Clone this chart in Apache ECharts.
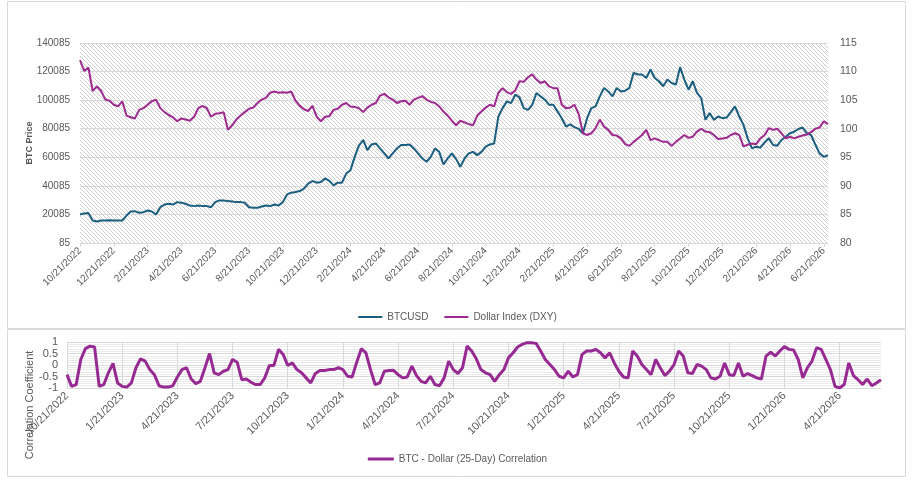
<!DOCTYPE html>
<html>
<head>
<meta charset="utf-8">
<script src="https://cdn.jsdelivr.net/npm/echarts@6/dist/echarts.min.js"></script>
<style>
  html, body { margin: 0; padding: 0; background: #fff; }
  #main { width: 915px; height: 485px; }
</style>
</head>
<body>
<div id="main"></div>
<script>
// weekly points (21st, 28th, 5th, 13th of each month)
var btcPrice = [
    20000, 20800, 21000, 15800, 15100, 15800, 15800, 16000, 15800, 15800,
    15800, 19300, 22100, 22350, 21200, 21650, 22800, 22100, 20000, 25150,
    27000, 27500, 27000, 28700, 28200, 27500, 26300, 25900, 26300, 25900,
    25900, 25150, 28700, 29900, 29900, 29400, 29200, 28700, 28700, 28200,
    25150, 24700, 24700, 25600, 26300, 25900, 27000, 26300, 28700, 34100,
    35300, 35750, 36450, 38100, 41600, 43500, 42300, 42800, 45300, 43600,
    40450, 42300, 42300, 48700, 51000, 60400, 68200, 72200, 65100, 69100,
    69800, 66300, 62800, 59250, 62800, 66300, 68700, 68700, 69100, 66300,
    62800, 59250, 56900, 60400, 66300, 63900, 55000, 59250, 62800, 58800,
    53400, 59250, 62800, 63900, 61600, 63900, 67500, 69100, 69800, 88600,
    94500, 99200, 98000, 103900, 102000, 94500, 93300, 96800, 105100, 102700,
    100400, 96800, 96800, 92150, 87450, 81600, 83200, 81200, 80000, 76900,
    87450, 94500, 95700, 102700, 108600, 106200, 102700, 108600, 106200, 106700,
    108600, 119200, 118000, 118000, 115600, 121500, 115600, 113300, 109800, 114500,
    112100, 110900, 123200, 114500, 107400, 113300, 105100, 101500, 86300, 91000,
    86300, 88600, 87450, 87900, 91700, 95700, 88600, 82750, 73350, 66300,
    67500, 66800, 70500, 73350, 68700, 68200, 72200, 74500, 76900, 78000,
    79900, 80900, 76900, 75700, 69000, 62800, 60400, 61500
];
var dollarIndex = [
    112.0, 110.1, 110.7, 106.6, 107.4, 106.6, 105.1, 104.9, 104.2, 103.9,
    104.8, 102.3, 102.0, 101.8, 103.3, 103.6, 104.2, 104.8, 105.1, 103.6,
    102.9, 102.4, 102.0, 101.3, 101.8, 101.6, 101.4, 102.1, 103.6, 104.0,
    103.6, 102.1, 102.6, 102.7, 102.9, 99.8, 100.6, 101.6, 102.3, 102.9,
    103.5, 103.7, 104.5, 105.1, 105.4, 106.3, 106.5, 106.3, 106.4, 106.3,
    106.5, 104.9, 104.0, 103.4, 103.1, 104.0, 102.1, 101.3, 102.1, 102.2,
    103.3, 103.5, 104.2, 104.5, 103.9, 103.8, 103.6, 102.9, 103.7, 104.2,
    104.5, 105.8, 106.1, 105.5, 105.1, 104.5, 104.8, 104.9, 104.2, 105.1,
    105.4, 105.7, 105.1, 104.7, 104.5, 103.9, 103.0, 102.3, 101.4, 100.6,
    101.4, 101.1, 100.8, 100.6, 102.3, 103.0, 103.7, 104.2, 103.9, 106.3,
    107.1, 106.4, 106.1, 106.7, 108.3, 108.2, 109.0, 109.5, 108.6, 108.0,
    108.3, 107.4, 107.1, 107.1, 104.2, 103.6, 103.7, 104.2, 102.6, 99.2,
    98.9, 99.2, 100.1, 101.6, 100.4, 99.8, 98.9, 98.8, 98.3, 97.3,
    97.0, 97.7, 98.3, 98.9, 99.8, 98.0, 98.3, 98.0, 97.7, 97.7,
    97.0, 97.7, 98.3, 98.9, 98.4, 98.6, 99.5, 100.0, 99.5, 99.4,
    98.9, 98.2, 98.3, 98.4, 98.9, 99.2, 98.9, 96.9, 97.2, 97.4,
    97.3, 98.3, 98.9, 100.1, 99.8, 100.0, 99.2, 98.3, 98.6, 98.3,
    98.6, 98.8, 99.0, 99.4, 100.0, 100.2, 101.3, 100.8
];
var correlation = [
    -0.42, -0.93, -0.85, 0.24, 0.71, 0.82, 0.78, -0.93, -0.85, -0.34,
    0.07, -0.78, -0.93, -0.96, -0.78, -0.12, 0.27, 0.17, -0.20, -0.42,
    -0.90, -0.96, -0.96, -0.90, -0.52, -0.20, -0.12, -0.61, -0.81, -0.71,
    -0.12, 0.50, -0.34, -0.42, -0.27, -0.20, 0.24, 0.12, -0.64, -0.61,
    -0.75, -0.85, -0.85, -0.56, -0.02, -0.02, 0.68, 0.46, -0.02, 0.09,
    -0.20, -0.34, -0.56, -0.78, -0.37, -0.24, -0.24, -0.20, -0.20, -0.12,
    -0.20, -0.49, -0.52, 0.12, 0.71, 0.53, -0.20, -0.85, -0.78, -0.27,
    -0.24, -0.23, -0.42, -0.56, -0.52, -0.05, -0.46, -0.71, -0.78, -0.49,
    -0.85, -0.90, -0.56, 0.17, -0.20, -0.37, -0.12, 0.82, 0.61, 0.27,
    -0.20, -0.34, -0.42, -0.71, -0.42, -0.20, 0.31, 0.53, 0.78, 0.90,
    0.97, 0.97, 0.94, 0.61, 0.24, 0.02, -0.20, -0.49, -0.56, -0.27,
    -0.52, -0.42, 0.46, 0.61, 0.61, 0.68, 0.53, 0.31, 0.53, 0.09,
    -0.27, -0.52, -0.56, 0.61, 0.39, 0.02, -0.20, -0.42, 0.24, -0.12,
    -0.46, -0.27, 0.02, 0.61, 0.39, -0.34, -0.37, 0.02, -0.05, -0.20,
    -0.56, -0.61, -0.49, 0.09, -0.42, -0.46, 0.09, -0.49, -0.37, -0.46,
    -0.56, -0.61, 0.39, 0.56, 0.39, 0.61, 0.80, 0.68, 0.65, 0.24,
    -0.56, -0.12, 0.17, 0.75, 0.68, 0.24, -0.20, -0.93, -1.00, -0.85,
    0.09, -0.46, -0.64, -0.85, -0.61, -0.90, -0.78, -0.64
];
var seriesNames = ['BTCUSD', 'Dollar Index (DXY)'];
var corrName = 'BTC - Dollar (25-Day) Correlation';

// category dates: 4 per month starting 10/21/2022
var dates = [];
for (var k = 0; dates.length < btcPrice.length; k++) {
    var y = 2022 + Math.floor((9 + k) / 12), m = (9 + k) % 12 + 1;
    var ny = 2022 + Math.floor((10 + k) / 12), nm = (10 + k) % 12 + 1;
    dates.push(m + '/21/' + y, m + '/28/' + y, nm + '/5/' + ny, nm + '/13/' + ny);
}
dates.length = btcPrice.length;

var every2m = function (i) { return i % 8 === 0; };
var every3m = function (i) { return i % 12 === 0; };

// hatched plot background
var hatch = document.createElement('canvas');
hatch.width = 4; hatch.height = 4;
var hc = hatch.getContext('2d');
hc.fillStyle = '#ffffff';
hc.fillRect(0, 0, 4, 4);
hc.fillStyle = '#cfcfcf';
for (var p = 0; p < 4; p++) hc.fillRect(p, p, 1, 1);

var txt = '#595959';
var gray = '#d9d9d9';
var font = "'Liberation Sans', Arial, sans-serif";

var myChart = echarts.init(document.getElementById('main'));
var option = {
    animation: false,
    textStyle: { fontFamily: font },
    graphic: [
        { type: 'rect', silent: true, z: -10, shape: { x: 7.5, y: 1.5, width: 898, height: 327 },
          style: { fill: 'none', stroke: gray, lineWidth: 1 } },
        { type: 'rect', silent: true, z: -10, shape: { x: 7.5, y: 329.5, width: 898, height: 147 },
          style: { fill: 'none', stroke: gray, lineWidth: 1 } },
        { type: 'text', silent: true, x: 30, y: 405, rotation: Math.PI / 2,
          style: { text: 'Correlation Coefficient', font: '11px ' + font, fill: txt, align: 'center', verticalAlign: 'middle' } }
    ],
    legend: [{
        data: seriesNames,
        left: 'center',
        top: 307,
        icon: 'rect',
        itemWidth: 24,
        itemHeight: 2,
        itemGap: 16,
        textStyle: { color: txt, fontSize: 10 }
    }, {
        data: [corrName],
        left: 'center',
        top: 449,
        icon: 'rect',
        itemWidth: 26,
        itemHeight: 3,
        textStyle: { color: txt, fontSize: 10 }
    }],
    grid: [{
        left: 80, top: 43, width: 748, height: 200,
        show: true, borderWidth: 0,
        backgroundColor: { image: hatch, repeat: 'repeat' }
    }, {
        left: 67, top: 342, width: 814, height: 46
    }],
    xAxis: [{
        type: 'category', gridIndex: 0, data: dates, boundaryGap: false,
        axisLine: { onZero: false, lineStyle: { color: gray } },
        axisTick: { interval: every2m, length: 4, lineStyle: { color: gray } },
        axisLabel: { interval: every2m, rotate: 45, fontSize: 10, color: txt, margin: 6 },
        splitLine: { show: false }
    }, {
        type: 'category', gridIndex: 1, data: dates, boundaryGap: false,
        axisLine: { onZero: false, lineStyle: { color: gray } },
        axisTick: { show: false },
        axisLabel: { interval: every3m, rotate: 45, fontSize: 11, color: txt, margin: 6 },
        splitLine: { show: true, interval: every3m, lineStyle: { color: gray } }
    }],
    yAxis: [{
        type: 'value', gridIndex: 0, min: 85, max: 140085, interval: 20000,
        name: 'BTC Price', nameLocation: 'middle', nameGap: 46, nameMoveOverlap: false,
        nameTextStyle: { fontWeight: 'bold', fontSize: 9, color: txt },
        axisLabel: { formatter: function (v) { return String(v); }, color: txt, fontSize: 10, margin: 10 },
        axisLine: { show: false }, axisTick: { show: false },
        splitLine: { lineStyle: { color: gray } }
    }, {
        type: 'value', gridIndex: 0, position: 'right', min: 80, max: 115, interval: 5,
        axisLabel: { color: txt, fontSize: 10.5, margin: 12 },
        axisLine: { show: false }, axisTick: { show: false },
        splitLine: { show: false }
    }, {
        type: 'value', gridIndex: 1, min: -1, max: 1, interval: 0.5,
        axisLabel: { color: txt, fontSize: 11, margin: 9 },
        axisLine: { show: false }, axisTick: { show: false },
        minorTick: { show: false, splitNumber: 5 },
        minorSplitLine: { show: true, lineStyle: { color: '#ebebeb' } },
        splitLine: { lineStyle: { color: gray } }
    }],
    series: [{
        name: seriesNames[0], type: 'line', xAxisIndex: 0, yAxisIndex: 0,
        data: btcPrice, symbol: 'none',
        itemStyle: { color: '#1B5E7F' },
        lineStyle: { color: '#1B5E7F', width: 2 }
    }, {
        name: seriesNames[1], type: 'line', xAxisIndex: 0, yAxisIndex: 1,
        data: dollarIndex, symbol: 'none',
        itemStyle: { color: '#9E2A8F' },
        lineStyle: { color: '#9E2A8F', width: 2 }
    }, {
        name: corrName, type: 'line', xAxisIndex: 1, yAxisIndex: 2,
        data: correlation, symbol: 'none',
        itemStyle: { color: '#962A92' },
        lineStyle: { color: '#962A92', width: 3 }
    }]
};
myChart.setOption(option);
</script>
</body>
</html>
